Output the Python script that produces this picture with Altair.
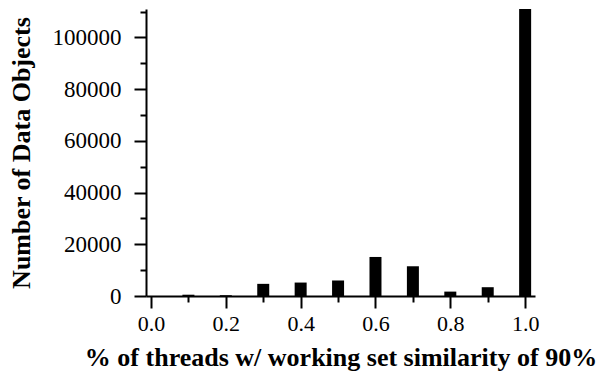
import altair as alt
import pandas as pd

# Fraction of threads sharing a working set (similarity >= 90%)
fractions = [0.1, 0.2, 0.3, 0.4, 0.5, 0.6, 0.7, 0.8, 0.9, 1.0]
# Number of data objects in each bin
counts = [500, 300, 4700, 5200, 6000, 15100, 11500, 1700, 3400, 111000]

df = pd.DataFrame({"fraction": fractions, "objects": counts})

FONT = "Liberation Serif"

x_ticks = [round(i * 0.1, 1) for i in range(11)]
y_ticks = [i * 10000 for i in range(12)]

chart = (
    alt.Chart(df)
    .mark_bar(size=12, color="black")
    .encode(
        x=alt.X(
            "fraction:Q",
            scale=alt.Scale(domain=[0, 1.013], nice=False, zero=False),
            axis=alt.Axis(
                title="% of threads w/ working set similarity of 90%",
                values=x_ticks,
                format=".1f",
                labelExpr="round(datum.value * 10) % 2 == 0 ? format(datum.value, '.1f') : ''",
                tickSize={"condition": {"test": "round(datum.value * 10) % 2 == 0", "value": 12}, "value": 6},
                labelFont=FONT,
                labelFontSize=22,
                labelPadding=5,
                titlePadding=10,
            ),
        ),
        y=alt.Y(
            "objects:Q",
            scale=alt.Scale(domain=[0, 111000], nice=False),
            axis=alt.Axis(
                title="Number of Data Objects",
                values=y_ticks,
                labelExpr="datum.value % 20000 == 0 ? format(datum.value, 'd') : ''",
                tickSize={"condition": {"test": "datum.value % 20000 == 0", "value": 12}, "value": 6},
                labelFont=FONT,
                labelFontSize=23,
                labelPadding=13,
                titlePadding=18,
            ),
        ),
    )
    .properties(
        width=389,
        height=287,
        autosize=alt.AutoSizeParams(type="none"),
        padding={"left": 146, "top": 9, "right": 68, "bottom": 81},
    )
    .configure_view(stroke=None)
    .configure_axis(
        domainColor="black",
        domainWidth=2,
        tickColor="black",
        tickWidth=2,
        grid=False,
        labelColor="black",
        titleFont=FONT,
        titleFontSize=26,
        titleFontWeight="bold",
        titleColor="black",
    )
)

chart.save("out.html", embed_options={"renderer": "svg", "actions": False})
